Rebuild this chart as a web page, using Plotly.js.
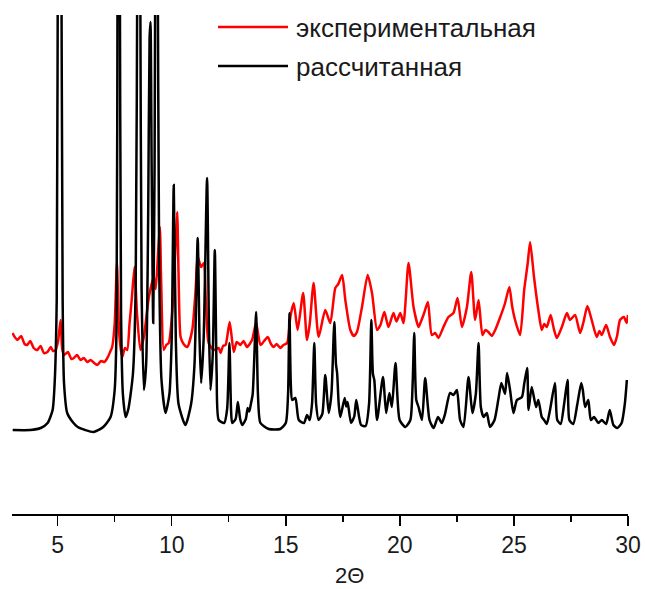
<!DOCTYPE html>
<html>
<head>
<meta charset="utf-8">
<script src="https://cdn.plot.ly/plotly-3.0.1.min.js"></script>
<style>html,body{margin:0;padding:0;background:#fff;}#chart{width:645px;height:589px;}</style>
</head>
<body>
<div id="chart"></div>
<script>
// Calculated pattern (black)
const calcX = [3.03,3.8,4.26,4.56,4.78,4.87,4.96,5.02,5.09,5.15,5.22,5.28,5.42,5.66,5.88,6.58,7.0,7.32,7.5,7.58,7.63,7.67,7.72,7.78,7.86,7.98,8.1,8.3,8.42,8.5,8.56,8.62,8.68,8.78,8.88,8.97,9.03,9.07,9.12,9.19,9.25,9.3,9.33,9.38,9.45,9.55,9.73,9.9,10.0,10.09,10.18,10.3,10.6,10.85,11.0,11.14,11.22,11.29,11.4,11.55,11.63,11.7,11.8,11.89,11.97,12.06,12.3,12.43,12.53,12.6,12.65,12.8,12.9,13.0,13.09,13.25,13.33,13.4,13.47,13.55,13.7,13.78,13.89,14.25,14.76,15.0,15.1,15.16,15.22,15.28,15.42,15.57,15.8,15.93,16.05,16.15,16.25,16.33,16.44,16.6,16.73,16.88,17.0,17.1,17.13,17.2,17.25,17.32,17.39,17.58,17.65,17.71,17.86,18.0,18.09,18.3,18.5,18.65,18.75,18.82,18.88,19.0,19.26,19.4,19.54,19.65,19.81,19.99,20.24,20.46,20.56,20.63,20.72,20.82,20.97,21.11,21.3,21.48,21.67,21.84,21.98,22.2,22.35,22.5,22.64,22.79,23.01,23.18,23.33,23.45,23.55,23.67,23.81,23.95,24.15,24.32,24.45,24.61,24.7,24.83,24.98,25.13,25.35,25.45,25.58,25.64,25.78,25.97,26.07,26.22,26.32,26.44,26.59,26.8,26.9,27.05,27.2,27.35,27.43,27.6,27.78,27.95,28.02,28.12,28.26,28.37,28.51,28.7,28.85,29.04,29.2,29.36,29.53,29.72,29.86,29.95,30.0];
const calcY = [16.8,16.8,17.2,18.2,20.8,26.2,42.8,130,160,130,42.8,26.2,20.2,18.4,17.4,16.4,17.4,19.4,24.8,36.8,120,160,120,40,24,19.4,21,28,45,120,160,110,45,24.8,30,60,95,98.4,70,38.2,70,140,160,120,50,27,20.2,24,35,65.8,35,22,17.8,22,30,55.2,35,26.2,35,67.2,38,24.8,32,52.8,28,18.8,18.2,21,34.2,21,18.2,19,22.4,19,17.8,19,21.2,20.5,22,24,40.4,24,18.2,17,17,18.2,24,40.2,26,22.8,23.2,18.8,18.2,19.8,18.8,22,34.2,22,18.8,20,27.8,20.2,24,36,38.4,30,28.2,22,19.4,23.2,21.5,22.4,18.2,19.5,22.8,17.8,17.6,22,38.8,28,26.8,18.8,27.4,20.2,24.2,21.4,30.2,18.8,17.4,18.8,26,36.2,22.8,21.4,18.8,27.2,18.8,17.2,19.4,18.2,20,24.2,23.8,24.8,18.8,17.4,27.4,20.2,24,34.2,21.4,19.4,20.2,17.4,18.8,23,26.2,24,28.2,24.8,20.2,22.8,23.4,26,29.2,20.8,25.4,21.4,22.8,19.4,18.8,18,21,26.2,18.8,18,22,26.8,18.8,18,22,26.2,24.8,21.4,22.8,18.8,19.4,18.2,18.8,18,20.8,17.8,17.2,18.2,22,26.8];

// Experimental pattern (red)
const expX = [3.02,3.12,3.24,3.4,3.55,3.67,3.8,3.95,4.11,4.25,4.4,4.55,4.7,4.8,4.91,5.02,5.13,5.2,5.28,5.45,5.6,5.71,5.85,6.0,6.15,6.3,6.45,6.6,6.74,6.9,7.05,7.18,7.3,7.39,7.5,7.6,7.7,7.83,7.95,8.05,8.15,8.25,8.37,8.48,8.63,8.78,9.0,9.22,9.3,9.4,9.48,9.54,9.65,9.76,9.87,10.05,10.15,10.24,10.3,10.39,10.52,10.68,10.9,11.05,11.14,11.29,11.41,11.5,11.62,11.84,12.06,12.14,12.25,12.36,12.54,12.72,12.85,13.01,13.15,13.3,13.52,13.7,13.89,14.05,14.21,14.35,14.47,14.6,14.76,14.9,15.06,15.2,15.35,15.52,15.76,15.93,16.05,16.22,16.44,16.73,16.95,17.17,17.3,17.47,17.61,17.83,17.98,18.12,18.34,18.59,18.78,19.0,19.15,19.32,19.5,19.72,19.85,20.02,20.16,20.38,20.6,20.82,20.9,21.05,21.23,21.4,21.55,21.69,21.91,22.13,22.35,22.53,22.72,22.94,23.13,23.3,23.45,23.62,23.75,23.88,24.03,24.18,24.4,24.6,24.8,24.92,25.05,25.27,25.45,25.6,25.71,25.88,26.07,26.22,26.33,26.44,26.61,26.75,26.88,27.1,27.32,27.46,27.68,27.9,28.05,28.22,28.41,28.63,28.75,28.85,29.04,29.21,29.39,29.52,29.65,29.82,29.94,30.0];
const expY = [36.2,35.4,34.8,35.6,34.0,33.8,34.6,33.2,32.8,33.6,32.2,32.4,33.4,32.6,32.8,34.6,38.8,33.0,31.8,32.4,31.0,31.2,31.8,30.8,31.2,30.4,30.8,30.2,29.8,30.6,30.4,31.2,32.4,33.4,38.0,50.2,36.0,31.4,33.2,32.8,38,43,49.4,40,32.8,35.4,43.4,47.4,45,52,57.4,46.2,32.8,33.8,34.2,42,52,60.4,48,35.4,34.0,33.4,36.8,45,51.4,49.4,50.2,42,34.2,32.8,33.2,32.2,33.6,33.8,38.4,32.4,34.4,33.8,34.6,33.4,34.8,38.2,33.8,34.6,35.4,34.0,33.4,34.0,33.2,33.8,34.2,39.4,42.2,36.8,44.2,34.8,38,46.2,35.4,40.8,38.2,45.2,46.0,47.8,42.8,36.8,35.6,36.4,41.4,47.8,44.2,36.8,37.8,40.4,37.4,40.2,38.5,40.2,38.2,50.2,41.4,37.4,38.2,40.0,42.4,35.8,36.2,35.2,37.4,39.4,40.2,43.2,37.4,41.4,48.4,38.8,42.8,35.8,36.8,36.4,35.6,36.8,39.4,42,45.4,41.6,38.8,35.8,44.8,50.0,54.4,47.4,40.8,36.8,38.0,37.4,39.8,37.0,35.2,37.4,40.2,38.8,39.8,36.2,38.4,41.6,38.8,35.4,36.6,35.8,37.8,35.4,33.8,35.6,38.8,39.4,38.2,39.8];

const xTicks = [5,10,15,20,25,30];
const seriesNames = ['экспериментальная','рассчитанная'];
const seriesColors = ['#ff0000','#000000'];
const axisTitle = '2Θ';

const traces = [
  {x: expX, y: expY, type:'scatter', mode:'lines', name: seriesNames[0], line:{color:seriesColors[0], width:2.5, shape:'spline', smoothing:0.6}, showlegend:false},
  {x: calcX, y: calcY, type:'scatter', mode:'lines', name: seriesNames[1], line:{color:seriesColors[1], width:2.5, shape:'spline', smoothing:0.6}, showlegend:false}
];

function px2x(p){ return (p-12)/616; }
function py2y(p){ return (514-p)/499; }

const FONT = 'Liberation Sans, Arial, sans-serif';
const legendRows = [27, 66];
const shapes = [];
const annotations = [];
legendRows.forEach((py,i)=>{
  shapes.push({type:'line', xref:'paper', yref:'paper', x0:px2x(218), x1:px2x(288), y0:py2y(py), y1:py2y(py), line:{color:seriesColors[i], width:2.5}});
  annotations.push({xref:'paper', yref:'paper', x:px2x(294), y:py2y(py+1), xanchor:'left', yanchor:'middle', text:seriesNames[i], showarrow:false, font:{family:FONT, size:26, color:'#1a1a1a'}});
});
annotations.push({xref:'paper', yref:'paper', x:px2x(349), y:py2y(575), xanchor:'center', yanchor:'middle', borderpad:0, text:axisTitle, showarrow:false, font:{family:FONT, size:22, color:'#1a1a1a'}});

const layout = {
  width:645, height:589,
  margin:{l:12, r:17, t:15, b:75},
  paper_bgcolor:'#fff', plot_bgcolor:'#fff',
  showlegend:false,
  xaxis:{
    range:[3,30], tickvals:xTicks, ticktext:xTicks.map(String),
    ticks:'outside', ticklen:10, tickwidth:1.5, tickcolor:'#000',
    minor:{dtick:2.5, tick0:0, ticks:'outside', ticklen:6, tickwidth:1.5, tickcolor:'#000'},
    showline:true, linecolor:'#000', linewidth:1.5, mirror:false,
    showgrid:false, zeroline:false,
    tickfont:{family:FONT, size:23, color:'#1a1a1a'}
  },
  yaxis:{range:[0,99.8], visible:false, showgrid:false, zeroline:false},
  shapes: shapes,
  annotations: annotations
};

Plotly.newPlot('chart', traces, layout, {staticPlot:true, displayModeBar:false});
</script>
</body>
</html>
